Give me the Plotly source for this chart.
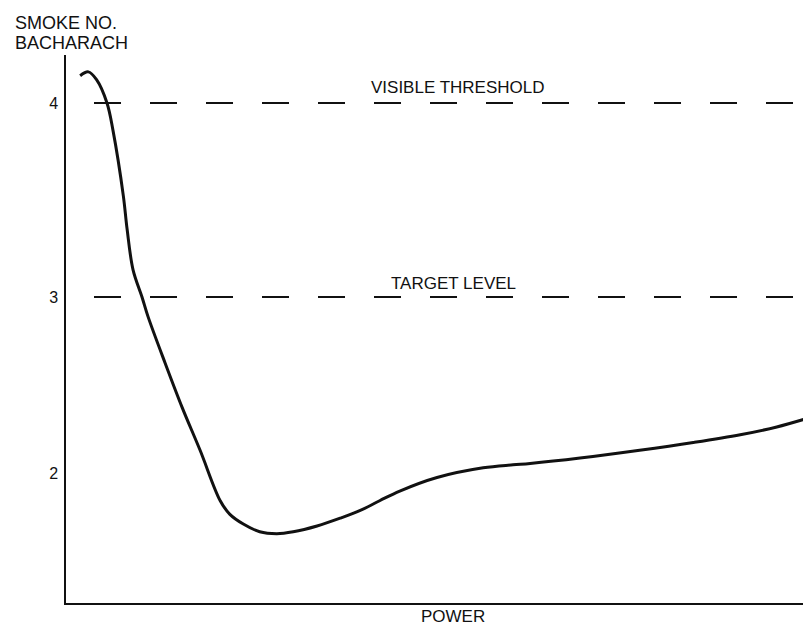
import plotly.graph_objects as go

# Curve (power in % of axis, smoke number)
power = [1.9, 3.0, 4.1, 5.5, 6.3, 7.7, 8.2, 9.0, 10.2, 11.0, 13.3, 15.6, 18.0, 20.7, 22.0,
         23.8, 26.0, 28.3, 30.5, 33.7, 36.8, 39.5, 42.1, 44.8, 49.8, 56.0, 60.0, 62.3,
         69.0, 77.0, 84.2, 90.5, 95.4, 100.0]
smoke = [4.14, 4.16, 4.12, 4.00, 3.86, 3.52, 3.35, 3.14, 3.00, 2.90, 2.66, 2.43, 2.21, 1.95, 1.88,
         1.83, 1.79, 1.78, 1.79, 1.82, 1.86, 1.90, 1.95, 2.00, 2.07, 2.12, 2.135, 2.142,
         2.17, 2.21, 2.25, 2.29, 2.33, 2.38]

levels = [4.0, 3.0]
level_names = ["VISIBLE THRESHOLD", "TARGET LEVEL"]
tick_labels = ["4", "3", "2"]
tick_positions = [4.0, 3.0, 2.09]
y_title_lines = ["SMOKE NO.", "BACHARACH"]
x_title = "POWER"

FONT = "Liberation Sans, Arial, sans-serif"
INK = "#111111"

fig = go.Figure()

for lv in levels:
    fig.add_trace(go.Scatter(x=[3.76, 100], y=[lv, lv], mode="lines",
                             line=dict(color=INK, width=2, dash="27px,29px"),
                             hoverinfo="skip", showlegend=False))

fig.add_trace(go.Scatter(x=power, y=smoke, mode="lines",
                         line=dict(color=INK, width=3, shape="spline", smoothing=1.0),
                         showlegend=False))

label_y = [4.077, 3.072]
label_x = [52.6, 52.0]
for name, lx, ly in zip(level_names, label_x, label_y):
    fig.add_annotation(x=lx, y=ly, text=name, showarrow=False, xanchor="center", yanchor="middle",
                       font=dict(family=FONT, size=17, color=INK))

for line_text, py in zip(y_title_lines, [1.0584, 1.0219]):
    fig.add_annotation(xref="paper", yref="paper", x=-0.0711, y=py, xanchor="left",
                       yanchor="middle", text=line_text, align="left", showarrow=False,
                       font=dict(family=FONT, size=18, color=INK))

fig.add_annotation(xref="x", yref="paper", x=52.0, y=0, yanchor="top", yshift=-2,
                   text=x_title, showarrow=False,
                   font=dict(family=FONT, size=17, color=INK))

fig.update_layout(
    width=803, height=617,
    margin=dict(l=58, r=0, t=47, b=22),
    paper_bgcolor="white", plot_bgcolor="white",
    font=dict(family=FONT, color=INK),
    xaxis=dict(range=[0, 100], showgrid=False, zeroline=False, showticklabels=False,
               ticks="", showline=True, linecolor=INK, linewidth=1.5),
    yaxis=dict(range=[1.423, 4.247], showgrid=False, zeroline=False,
               tickvals=tick_positions, ticktext=tick_labels, ticks="",
               ticklabelstandoff=3,
               tickfont=dict(family=FONT, size=16, color=INK),
               showline=True, linecolor=INK, linewidth=1.5),
)

fig.write_html("out.html")
